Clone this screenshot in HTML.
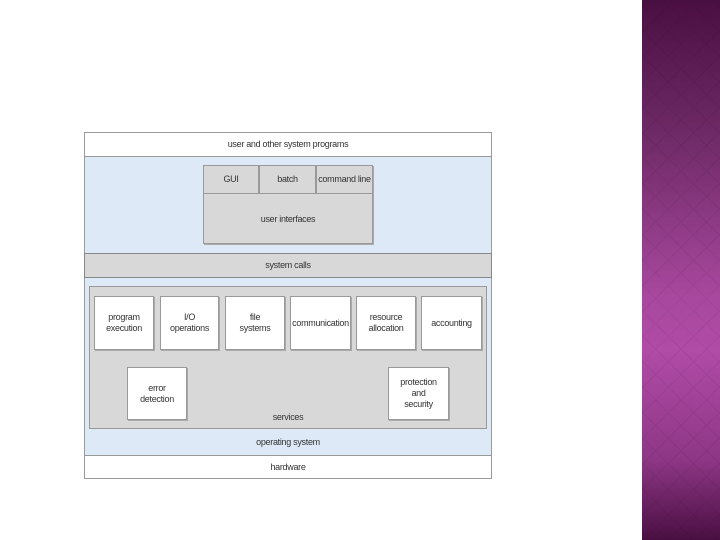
<!DOCTYPE html>
<html><head><style>
*{margin:0;padding:0;box-sizing:border-box}
body{width:720px;height:540px;position:relative;background:#fff;font-family:"Liberation Sans",sans-serif;overflow:hidden}
.a{position:absolute}
.t{font-size:9px;color:#333;text-align:center;display:flex;align-items:center;justify-content:center;line-height:11px;letter-spacing:-0.3px}
.box{background:#fff;border:1px solid #999;box-shadow:1px 1px 0 #aaa}
.panel{left:642px;top:0;width:78px;height:540px;background:linear-gradient(180deg,#4a0f42 0%,#6e2a66 25%,#a8489e 55%,#b04ba6 65%,#8e3786 85%,#4a0f42 100%)}
.pat{left:642px;top:0;width:78px;height:540px;opacity:.05;background-image:repeating-linear-gradient(45deg,#000 0 1px,transparent 1px 18px),repeating-linear-gradient(-45deg,#000 0 1px,transparent 1px 18px)}
</style></head><body>
<div class="a panel"></div><div class="a pat"></div>

<div class="a" style="left:84px;top:132px;width:408px;height:347px;border:1px solid #999;background:#dde9f6"></div>
<div class="a t" style="left:84px;top:132px;width:408px;height:25px;background:#fff;border:1px solid #999">user and other system programs</div>

<div class="a" style="left:203px;top:165px;width:170px;height:79px;background:#d8d8d8;border:1px solid #999;box-shadow:1px 1px 0 #aaa"></div>
<div class="a t" style="left:203px;top:165px;width:56px;height:29px;border:1px solid #999">GUI</div>
<div class="a t" style="left:259px;top:165px;width:57px;height:29px;border:1px solid #999">batch</div>
<div class="a t" style="left:316px;top:165px;width:57px;height:29px;border:1px solid #999">command line</div>
<div class="a t" style="left:203px;top:194px;width:170px;height:50px">user interfaces</div>

<div class="a t" style="left:84px;top:253px;width:408px;height:25px;background:#d8d8d8;border:1px solid #888">system calls</div>

<div class="a" style="left:89px;top:286px;width:398px;height:143px;background:#d8d8d8;border:1px solid #999"></div>
<div class="a box t" style="left:94px;top:296px;width:60px;height:54px">program<br>execution</div>
<div class="a box t" style="left:160px;top:296px;width:59px;height:54px">I/O<br>operations</div>
<div class="a box t" style="left:225px;top:296px;width:60px;height:54px">file<br>systems</div>
<div class="a box t" style="left:290px;top:296px;width:61px;height:54px">communication</div>
<div class="a box t" style="left:356px;top:296px;width:60px;height:54px">resource<br>allocation</div>
<div class="a box t" style="left:421px;top:296px;width:61px;height:54px">accounting</div>
<div class="a box t" style="left:127px;top:367px;width:60px;height:53px">error<br>detection</div>
<div class="a box t" style="left:388px;top:367px;width:61px;height:53px">protection<br>and<br>security</div>
<div class="a t" style="left:89px;top:411px;width:398px;height:12px">services</div>
<div class="a t" style="left:84px;top:433px;width:408px;height:18px">operating system</div>
<div class="a t" style="left:84px;top:455px;width:408px;height:24px;background:#fff;border:1px solid #999">hardware</div>
</body></html>
